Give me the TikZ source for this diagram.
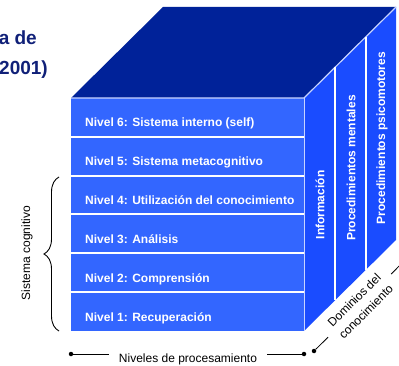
\documentclass[tikz,border=0pt]{standalone}
\usepackage{fontspec}
\setmainfont{Liberation Sans}
\usetikzlibrary{decorations.pathreplacing}
\definecolor{topc}{RGB}{0,34,153}
\definecolor{frontc}{RGB}{51,102,255}
\definecolor{sidec}{RGB}{26,76,255}
\definecolor{edgec}{RGB}{200,212,255}
\definecolor{titlec}{RGB}{16,32,120}
\begin{document}
\begin{tikzpicture}[x=1pt,y=-1pt,
  row/.style={fill=frontc, minimum width=233pt, minimum height=38.83pt, inner sep=0pt, outer sep=0pt, anchor=north west},
  lvl/.style={text=white, font=\bfseries\fontsize{12}{14}\selectfont, anchor=base west, inner sep=0pt},
  slab/.style={text=white, font=\bfseries\fontsize{12}{14}\selectfont, rotate=90, inner sep=0pt},
  lbl/.style={font=\fontsize{12}{14}\selectfont},
  ttl/.style={font=\bfseries\fontsize{19}{22}\selectfont, text=titlec, anchor=base east, inner sep=0pt},
  sepline/.style={white, line width=2pt},
  edgeline/.style={edgec, line width=1.2pt},
  dotnode/.style={circle, fill=black, inner sep=0pt, minimum size=4.5pt},
  conn/.style={black, line width=0.8pt}
]
\useasboundingbox (0,0) rectangle (399,366);
% title (partly cut off)
\node[ttl] (t1) at (37,45) {a de};
\node[ttl] (t2) at (48,75) {2001)};
% faces
\fill[topc] (71,98) -- (163,7) -- (396,7) -- (304,98) -- cycle;
\fill[sidec] (304,98) -- (396,7) -- (396,240) -- (304,331) -- cycle;
% rows
\node[row] (r6) at (71,98) {};
\node[row] (r5) at (71,136.83) {};
\node[row] (r4) at (71,175.67) {};
\node[row] (r3) at (71,214.5) {};
\node[row] (r2) at (71,253.33) {};
\node[row] (r1) at (71,292.17) {};
\foreach \r in {r6,r5,r4,r3,r2}{\draw[sepline] (\r.south west) -- (\r.south east);}
% edges
\draw[edgeline] (r6.north west) -- (r6.north east) -- (396,7);
\draw[edgec, line width=0.8pt] (r6.north east) -- (r1.south east);
% slab dividers
\draw[sepline] (335,67.34) -- (335,300.34);
\draw[sepline] (366,36.67) -- (366,269.67);
% labels
\node[lvl] (l6) at (85,127) {Nivel 6: Sistema interno (self)};
\node[lvl] (l5) at (85,165.8) {Nivel 5: Sistema metacognitivo};
\node[lvl] (l4) at (85,204.7) {Nivel 4: Utilización del conocimiento};
\node[lvl] (l3) at (85,243.5) {Nivel 3: Análisis};
\node[lvl] (l2) at (85,282.3) {Nivel 2: Comprensión};
\node[lvl] (l1) at (85,321.2) {Nivel 1: Recuperación};
\node[slab] (inf) at (320,205) {Información};
\node[slab] (pm) at (351,168) {Procedimientos mentales};
\node[slab] (pp) at (382,138) {Procedimientos psicomotores};
% brace
\draw[decorate, decoration={brace, amplitude=15pt}, line width=0.9pt] (59,331) -- (59,177);
\node[lbl, rotate=90] (sc) at (27,253) {Sistema cognitivo};
% bottom axis
\node[dotnode] (pl) at (71,354) {};
\node[dotnode] (pr) at (304,354) {};
\node[lbl, anchor=base, inner xsep=10pt] (np) at (188,362) {Niveles de procesamiento};
\draw[conn] (pl) -- (np.west |- pl);
\draw[conn] (np.east |- pr) -- (pr);
% diagonal axis
\node[dotnode] (dl) at (314,351) {};
\coordinate (dr) at (405,260);
\node[font=\fontsize{12}{16.5}\selectfont, rotate=45, align=center, inner xsep=9pt, inner ysep=0pt] (dom) at (360,306) {Dominios del\\conocimiento};
\draw[conn] (dl) -- (dom);
\draw[conn] (dom) -- (dr);
\end{tikzpicture}
\end{document}
